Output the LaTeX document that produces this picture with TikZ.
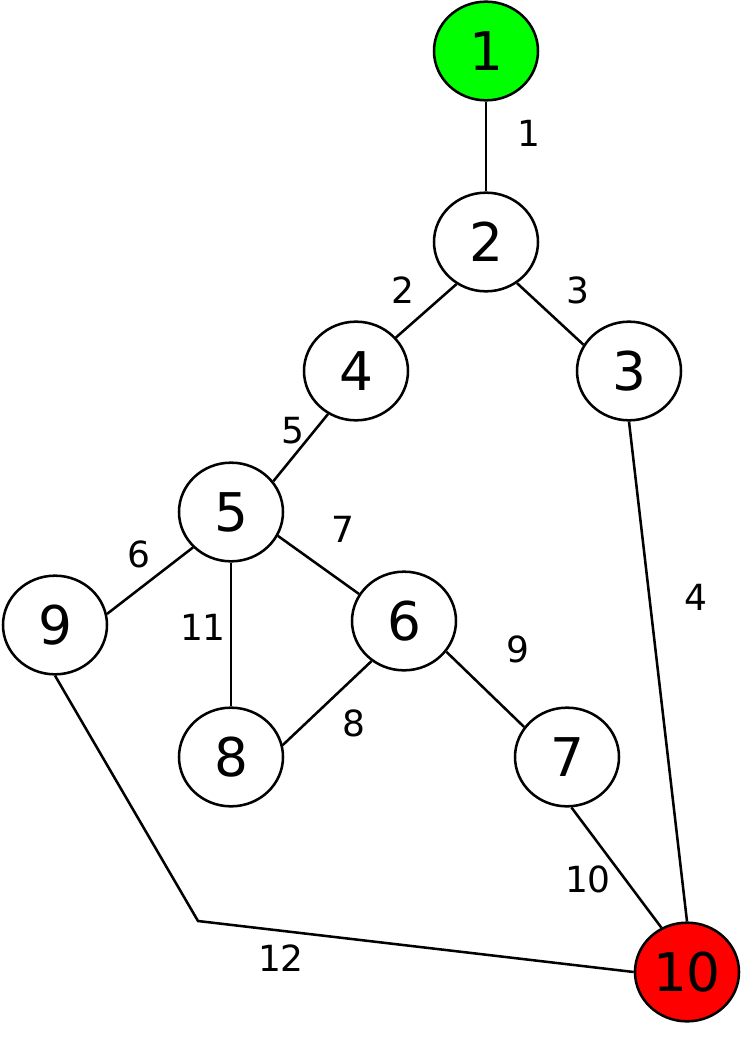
\documentclass[tikz,border=0pt]{standalone}
\usepackage{fontspec}
\setmainfont{DejaVu Sans}
\usetikzlibrary{shapes.geometric}
\definecolor{mGreen}{HTML}{00FF00}
\definecolor{mRed}{HTML}{FF0000}

\begin{document}
\begin{tikzpicture}[x=0.75pt, y=-0.75pt,
  vertex/.style={draw, ellipse, line width=1.9pt, minimum width=78pt,
                 minimum height=74pt, inner sep=0pt,
                 font=\fontsize{40}{40}\selectfont},
  weight/.style={inner sep=0pt, font=\fontsize{27}{27}\selectfont},
  edge/.style={line width=1.9pt},
]
  \useasboundingbox (0,0) rectangle (745,1053);

  % vertices
  \node[vertex, fill=mGreen] (n1) at (486,51) {1};
  \node[vertex] (n2) at (486,242) {2};
  \node[vertex] (n4) at (356,371) {4};
  \node[vertex] (n3) at (629,371) {3};
  \node[vertex] (n5) at (231,512) {5};
  \node[vertex] (n9) at (55,625) {9};
  \node[vertex] (n6) at (404,621) {6};
  \node[vertex] (n8) at (231,757) {8};
  \node[vertex] (n7) at (567,757) {7};
  \node[vertex, fill=mRed] (n10) at (687,972) {10};
  \coordinate (bend) at (198,921);

  % edges
  \draw[edge] (n1.south) -- (n2.north);
  \draw[edge] (n2.235) -- (n4.40);
  \draw[edge] (n2.307) -- (n3.150);
  \draw[edge] (n3.south) -- (n10.north);
  \draw[edge] (n4.237) -- (n5.36);
  \draw[edge] (n5.223) -- (n9.12);
  \draw[edge] (n5.333) -- (n6.149);
  \draw[edge] (n6.231) -- (n8.13);
  \draw[edge] (n6.324) -- (n7.145);
  \draw[edge] (n7.275) -- (n10.120);
  \draw[edge] (n5.south) -- (n8.north);
  \draw[edge] (n9.south) -- (bend) -- (n10.west);

  % weights
  \node[weight] (w1) at (529,133) {1};
  \node[weight] (w2) at (403,290) {2};
  \node[weight] (w3) at (578,290) {3};
  \node[weight] (w4) at (696,597) {4};
  \node[weight] (w5) at (293,431) {5};
  \node[weight] (w6) at (139,554) {6};
  \node[weight] (w7) at (343,529) {7};
  \node[weight] (w8) at (354,723) {8};
  \node[weight] (w9) at (518,649) {9};
  \node[weight] (w10) at (588,879) {10};
  \node[weight] (w11) at (203,627) {11};
  \node[weight] (w12) at (281,958) {12};
\end{tikzpicture}
\end{document}
